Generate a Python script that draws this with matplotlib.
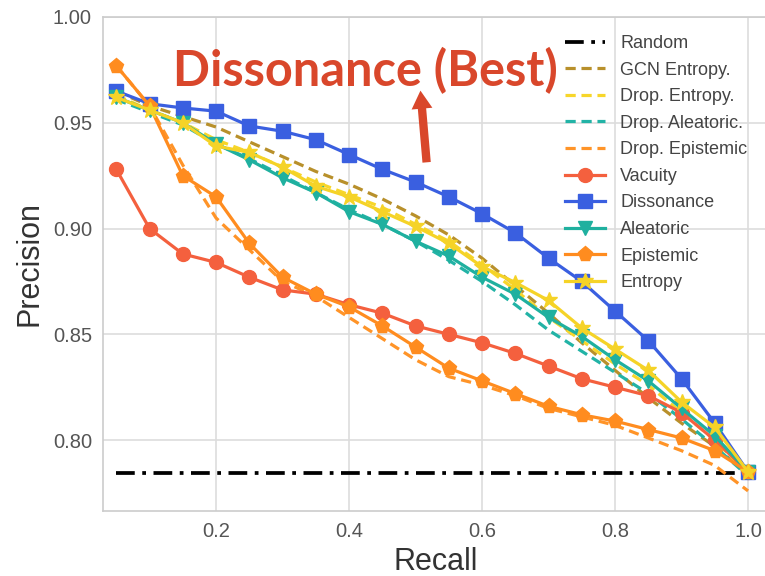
import matplotlib
matplotlib.use("Agg")
import matplotlib.pyplot as plt

plt.rcParams['font.family'] = ['Liberation Sans', 'DejaVu Sans']

recall = [0.05, 0.10, 0.15, 0.20, 0.25, 0.30, 0.35, 0.40, 0.45, 0.50,
          0.55, 0.60, 0.65, 0.70, 0.75, 0.80, 0.85, 0.90, 0.95, 1.00]

random_level = 0.7845

gcn_entropy = [0.965, 0.958, 0.953, 0.948, 0.941, 0.934, 0.927, 0.921, 0.914, 0.906,
               0.897, 0.886, 0.873, 0.860, 0.846, 0.833, 0.820, 0.808, 0.797, 0.784]
drop_entropy = [0.963, 0.956, 0.950, 0.942, 0.936, 0.929, 0.922, 0.916, 0.910, 0.902,
                0.894, 0.883, 0.871, 0.858, 0.847, 0.836, 0.826, 0.813, 0.800, 0.784]
drop_aleatoric = [0.961, 0.955, 0.949, 0.940, 0.933, 0.925, 0.917, 0.909, 0.902, 0.894,
                  0.885, 0.875, 0.864, 0.852, 0.842, 0.832, 0.822, 0.810, 0.797, 0.783]
drop_epistemic = [0.977, 0.958, 0.930, 0.905, 0.890, 0.875, 0.868, 0.858, 0.848, 0.838,
                  0.830, 0.826, 0.821, 0.815, 0.811, 0.807, 0.801, 0.795, 0.788, 0.776]
vacuity = [0.928, 0.900, 0.888, 0.884, 0.877, 0.871, 0.869, 0.864, 0.860, 0.854,
           0.850, 0.846, 0.841, 0.835, 0.829, 0.825, 0.821, 0.813, 0.800, 0.785]
dissonance = [0.965, 0.959, 0.957, 0.9555, 0.9485, 0.946, 0.942, 0.935, 0.928, 0.922,
              0.915, 0.907, 0.898, 0.886, 0.875, 0.861, 0.847, 0.829, 0.808, 0.785]
aleatoric = [0.962, 0.956, 0.950, 0.940, 0.9325, 0.924, 0.917, 0.908, 0.902, 0.894,
             0.887, 0.877, 0.869, 0.858, 0.849, 0.838, 0.828, 0.815, 0.802, 0.785]
epistemic = [0.977, 0.958, 0.925, 0.915, 0.893, 0.877, 0.869, 0.863, 0.854, 0.844,
             0.834, 0.828, 0.822, 0.816, 0.812, 0.809, 0.805, 0.801, 0.795, 0.785]
entropy = [0.962, 0.956, 0.950, 0.939, 0.936, 0.929, 0.920, 0.915, 0.908, 0.901,
           0.893, 0.882, 0.8745, 0.866, 0.853, 0.843, 0.833, 0.818, 0.806, 0.785]

fig = plt.figure(figsize=(7.65, 5.76), dpi=100)
ax = fig.add_axes([103 / 765, 1 - 511 / 576, 665 / 765, 494 / 576])

lw = 2.3
dash = (3.2, 1.8)
ax.plot([recall[0], recall[-1]], [random_level, random_level], color="black",
        lw=lw + 0.4, dashes=(5, 2, 1, 2), label="Random")
ax.plot(recall, gcn_entropy, color="#b8902b", lw=lw, dashes=dash, label="GCN Entropy.")
ax.plot(recall, drop_entropy, color="#f7d62a", lw=lw, dashes=dash, label="Drop. Entropy.")
ax.plot(recall, drop_aleatoric, color="#22b3a6", lw=lw, dashes=dash, label="Drop. Aleatoric.")
ax.plot(recall, drop_epistemic, color="#ff9428", lw=lw, dashes=dash, label="Drop. Epistemic")
ax.plot(recall, vacuity, color="#f4603e", lw=lw, marker="o", ms=10, label="Vacuity")
ax.plot(recall, dissonance, color="#3a5fe0", lw=lw, marker="s", ms=10, label="Dissonance")
ax.plot(recall, aleatoric, color="#1fb09f", lw=lw, marker="v", ms=10, label="Aleatoric")
ax.plot(recall, epistemic, color="#ff8c1f", lw=lw, marker="p", ms=11, label="Epistemic")
ax.plot(recall, entropy, color="#f5d327", lw=lw, marker="*", ms=12, label="Entropy")

ax.set_xlim(0.03, 1.03)
ax.set_ylim(0.7665, 1.0)
ax.set_xticks([0.2, 0.4, 0.6, 0.8, 1.0])
ax.set_yticks([0.80, 0.85, 0.90, 0.95, 1.00])
ax.set_xticklabels(["0.2", "0.4", "0.6", "0.8", "1.0"])
ax.set_yticklabels(["0.80", "0.85", "0.90", "0.95", "1.00"])
ax.grid(True, color="#dddddd", lw=1.2)
ax.set_axisbelow(True)
for s in ax.spines.values():
    s.set_color("#cccccc")
    s.set_linewidth(1.2)
ax.tick_params(length=0, labelsize=14.5, colors="#555555", pad=8)
ax.set_xlabel("Recall", fontsize=22, color="#333333", labelpad=4)
ax.set_ylabel("Precision", fontsize=22, color="#333333", labelpad=6)

leg = ax.legend(loc="upper left", bbox_to_anchor=(565 / 765, 1 - 35 / 576),
                bbox_transform=fig.transFigure, frameon=False, fontsize=13,
                labelspacing=0.53, handlelength=2.2, handletextpad=0.85,
                borderpad=0, borderaxespad=0)
for t in leg.get_texts():
    t.set_color("#444444")

ax.annotate("", xy=(0.507, 0.9665), xytext=(0.517, 0.930),
            arrowprops=dict(arrowstyle="simple,head_width=1.5,head_length=1.3,tail_width=0.6",
                            color="#d9472b", lw=0))
ax.text(0.424, 0.9675, "Dissonance (Best)", fontsize=35, fontweight="bold",
        color="#d9472b", family="Lato", ha="center", va="baseline")

fig.savefig("out.png", dpi=100)
